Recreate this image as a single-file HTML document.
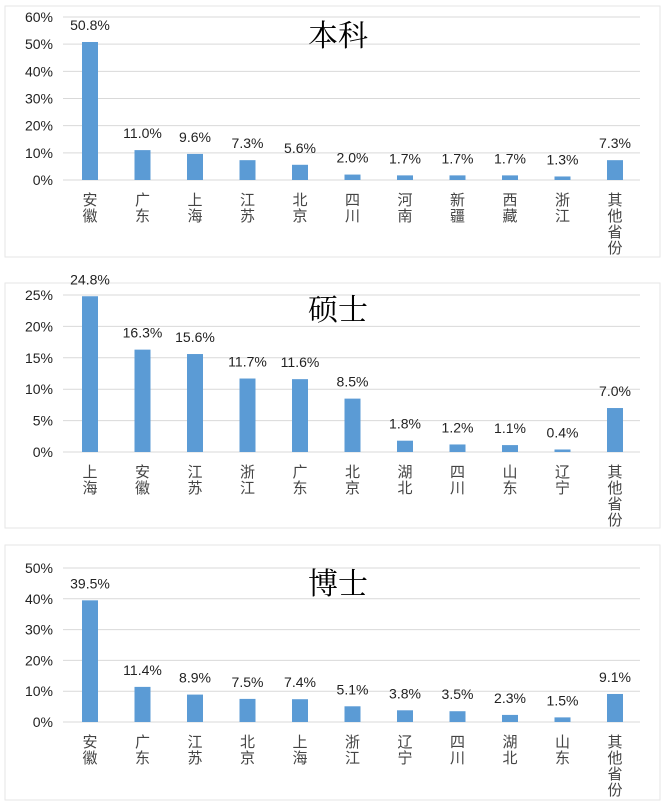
<!DOCTYPE html>
<html><head><meta charset="utf-8"><style>
body{margin:0;background:#fff;width:668px;height:804px;overflow:hidden}
svg{display:block}
</style></head><body>
<svg id="s" width="668" height="804" xmlns="http://www.w3.org/2000/svg" font-family="Liberation Sans, 'Noto Sans CJK SC', sans-serif"></svg>
<script>
const charts=[
 {box:[5,6,655,251],title:"本科",ty:46,top:17,bot:180,max:60,step:10,dec:0,
  cats:["安徽","广东","上海","江苏","北京","四川","河南","新疆","西藏","浙江","其他省份"],
  v:[50.8,11.0,9.6,7.3,5.6,2.0,1.7,1.7,1.7,1.3,7.3]},
 {box:[5,283,655,245],title:"硕士",ty:320,top:295,bot:452,max:25,step:5,dec:0,
  cats:["上海","安徽","江苏","浙江","广东","北京","湖北","四川","山东","辽宁","其他省份"],
  v:[24.8,16.3,15.6,11.7,11.6,8.5,1.8,1.2,1.1,0.4,7.0]},
 {box:[5,545,655,255],title:"博士",ty:594,top:568,bot:722,max:50,step:10,dec:0,
  cats:["安徽","广东","江苏","北京","上海","浙江","辽宁","四川","湖北","山东","其他省份"],
  v:[39.5,11.4,8.9,7.5,7.4,5.1,3.8,3.5,2.3,1.5,9.1]}
];
let h='';
for(const c of charts){
 const [bx,by,bw,bh]=c.box;
 h+=`<rect x="${bx}" y="${by}" width="${bw}" height="${bh}" fill="none" stroke="#e6e6e6"/>`;
 const sc=(c.bot-c.top)/c.max;
 for(let t=0;t<=c.max;t+=c.step){
  const y=c.bot-t*sc;
  h+=`<line x1="63" x2="640" y1="${y}" y2="${y}" stroke="#d9d9d9" stroke-width="1"/>`;
  h+=`<text x="53" y="${y+5}" text-anchor="end" font-size="14" fill="#222">${t}%</text>`;
 }
 h+=`<text x="338" y="${c.ty}" text-anchor="middle" font-size="30" font-family="'Noto Serif CJK SC',serif" fill="#000">${c.title}</text>`;
 c.v.forEach((v,i)=>{
  const cx=90+52.5*i, y=c.bot-v*sc;
  h+=`<rect x="${cx-8}" y="${y}" width="16" height="${c.bot-y}" fill="#5b9bd5"/>`;
  h+=`<text x="${cx}" y="${y-12}" text-anchor="middle" font-size="14" fill="#222">${v.toFixed(1)}%</text>`;
  [...c.cats[i]].forEach((ch,j)=>{
   h+=`<text x="${cx}" y="${c.bot+25+j*16}" text-anchor="middle" font-size="15" font-family="'Noto Sans CJK SC',sans-serif" fill="#444">${ch}</text>`;
  });
 });
}
document.getElementById('s').innerHTML=h;
</script>
</body></html>
